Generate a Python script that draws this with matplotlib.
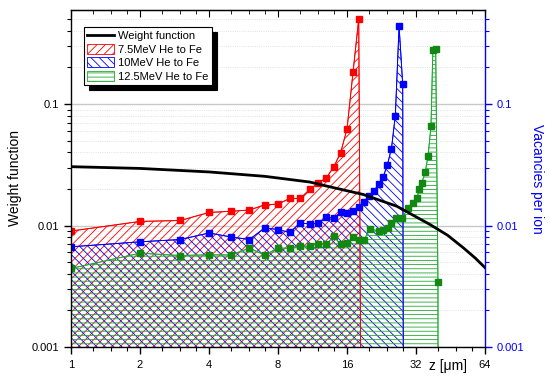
import numpy as np
import matplotlib
matplotlib.use("Agg")
import matplotlib.pyplot as plt
from matplotlib.lines import Line2D
from matplotlib.patches import Patch
from matplotlib.ticker import FixedLocator, NullFormatter, LogLocator

plt.rcParams['font.family'] = ['Liberation Sans', 'DejaVu Sans']
plt.rcParams['hatch.linewidth'] = 0.6

# weight function
wz = [1, 2, 4, 7, 11, 13.5, 18.85, 26.4, 36.8, 44, 51.5, 58, 64]
wv = [0.0305, 0.0295, 0.0276, 0.0254, 0.0228, 0.0208, 0.0180, 0.0144, 0.0102,
      0.0083, 0.00655, 0.0054, 0.0045]

# 7.5 MeV He to Fe
z_75 = list(range(1, 19))
v_75 = [0.0090, 0.0108, 0.0110, 0.0128, 0.0131, 0.0134, 0.0148, 0.0150, 0.0167,
        0.0167, 0.0198, 0.0224, 0.0247, 0.0303, 0.0397, 0.0621, 0.183, 0.502]
end_75 = 18.6

# 10 MeV He to Fe
z_10 = list(range(1, 29))
v_10 = [0.00668, 0.00734, 0.00767, 0.00868, 0.00804, 0.00767, 0.00954, 0.00927,
        0.00876, 0.0105, 0.0103, 0.0104, 0.01175, 0.01142, 0.0129, 0.0126, 0.0131,
        0.01425, 0.01555, 0.01733, 0.0193, 0.0219, 0.0250, 0.0316, 0.0428, 0.0804,
        0.437, 0.145]
end_10 = 28.3

# 12.5 MeV He to Fe
z_125 = [1, 2, 3, 4, 5, 6, 7, 8, 9, 10, 11, 12, 13, 14, 15, 16, 17, 18, 19, 20.2,
         22, 23, 24.2, 25, 26.3, 27.9, 29.6, 31, 32.3, 33.1, 33.9, 35.1, 36.1,
         37.2, 37.9, 39.0, 39.9]
v_125 = [0.00443, 0.00592, 0.00566, 0.00574, 0.00572, 0.00653, 0.00570, 0.00655,
         0.00647, 0.00676, 0.00676, 0.00711, 0.00698, 0.00817, 0.00698, 0.00721,
         0.00801, 0.00757, 0.00767, 0.00939, 0.00898, 0.00927, 0.00957, 0.0105,
         0.0116, 0.0116, 0.0140, 0.0154, 0.0169, 0.0200, 0.0224, 0.0275, 0.0372,
         0.0656, 0.276, 0.286, 0.00341]
end_125 = 40.0

series = [
    (z_75, v_75, end_75, "#ff0000", "////", "7.5MeV He to Fe"),
    (z_10, v_10, end_10, "#0000ff", "\\\\\\\\", "10MeV He to Fe"),
    (z_125, v_125, end_125, "#22aa33", "----", "12.5MeV He to Fe"),
]
mcolors = ["#ff0000", "#0000ff", "#118811"]

fig = plt.figure(figsize=(5.5, 3.84), dpi=100)
ax = fig.add_axes([71/550, 1-347/384, (485-71)/550, (347-10)/384])
ymin, ymax = 0.001, 0.594
base = 1e-5

for (z, v, zend, c, h, lab), mc in zip(series, mcolors):
    zz = list(z) + [zend]
    vv = list(v) + [base]
    ax.fill_between(zz, vv, base, facecolor="none", edgecolor=c, hatch=h, linewidth=0.6)
    ax.plot(zz, vv, color=c, lw=0.7)
    ax.plot(z, v, ls="none", marker="s", ms=4.3, color=mc, mec=mc)

ax.plot(wz, wv, color="black", lw=2)

ax.set_xscale("log", base=2)
ax.set_yscale("log")
ax.set_xlim(1, 64)
ax.set_ylim(ymin, ymax)

xt = [1, 2, 4, 8, 16, 32, 64]
xminor = [t * f for t in xt[:-1] for f in (1.25, 1.5, 1.75)]
ax.xaxis.set_major_locator(FixedLocator(xt))
ax.set_xticklabels([str(t) for t in xt])
ax.xaxis.set_minor_locator(FixedLocator(xminor))
ax.xaxis.set_minor_formatter(NullFormatter())

yt = [0.001, 0.01, 0.1]
ax.yaxis.set_major_locator(FixedLocator(yt))
ax.set_yticklabels(["0.001", "0.01", "0.1"])
ax.yaxis.set_minor_locator(LogLocator(base=10, subs=np.arange(2, 10)))
ax.yaxis.set_minor_formatter(NullFormatter())

ax.tick_params(axis="both", which="major", direction="out", length=5, width=1, labelsize=8)
ax.tick_params(axis="both", which="minor", direction="out", length=3, width=0.8)
ax.tick_params(axis="x", pad=4)

ax.grid(True, which="major", axis="y", color="#c8c8c8", lw=1)
ax.grid(True, which="minor", axis="y", color="#d8d8d8", lw=0.6, ls=":")
ax.set_axisbelow(True)

for s in ["left", "bottom", "top"]:
    ax.spines[s].set_linewidth(1)
ax.spines["right"].set_visible(False)

# top axis: inward ticks, no labels
top = ax.secondary_xaxis("top")
top.xaxis.set_major_locator(FixedLocator(xt))
top.xaxis.set_minor_locator(FixedLocator(xminor))
top.tick_params(axis="x", which="major", direction="in", length=5, labeltop=False)
top.tick_params(axis="x", which="minor", direction="in", length=3, labeltop=False)
top.xaxis.set_major_formatter(NullFormatter())
top.xaxis.set_minor_formatter(NullFormatter())

# right axis in blue
ax2 = ax.twinx()
ax2.set_yscale("log")
ax2.set_ylim(ymin, ymax)
ax2.yaxis.set_major_locator(FixedLocator(yt))
ax2.set_yticklabels(["0.001", "0.01", "0.1"])
ax2.yaxis.set_minor_locator(LogLocator(base=10, subs=np.arange(2, 10)))
ax2.yaxis.set_minor_formatter(NullFormatter())
ax2.tick_params(axis="y", which="major", direction="out", length=5, width=1,
                colors="#0000ff", labelsize=8)
ax2.tick_params(axis="y", which="minor", direction="out", length=3, width=0.8, colors="#0000ff")
for s in ["left", "bottom", "top"]:
    ax2.spines[s].set_visible(False)
ax2.spines["right"].set_color("#0000ff")
ax2.spines["right"].set_linewidth(1)
ax2.set_ylabel("Vacancies per ion", color="#0000ff", fontsize=10, rotation=270, labelpad=14)

ax.set_ylabel("Weight function", fontsize=10, labelpad=7)
ax.set_xlabel("z [\u03bcm]", fontsize=10)
ax.xaxis.set_label_coords((448 - 71) / 414, -0.035)

handles = [Line2D([0], [0], color="black", lw=2)]
for z, v, zend, c, h, lab in series:
    handles.append(Patch(facecolor="white", edgecolor=c, hatch=h, linewidth=0.6))
labels = ["Weight function"] + [s[5] for s in series]
leg = ax.legend(handles, labels, loc="upper left", bbox_to_anchor=(0.031, 0.95),
                fontsize=8, fancybox=False, framealpha=1, edgecolor="black",
                shadow={"color": "black", "alpha": 1, "ox": 3.5, "oy": -3.5},
                handlelength=2.4, handleheight=1.0, labelspacing=0.25,
                borderpad=0.3, handletextpad=0.4, borderaxespad=0)
leg.get_frame().set_linewidth(0.8)
leg.set_zorder(10)
ax.set_zorder(ax2.get_zorder() + 1)
ax.patch.set_visible(False)

fig.savefig("out.png", dpi=100)
